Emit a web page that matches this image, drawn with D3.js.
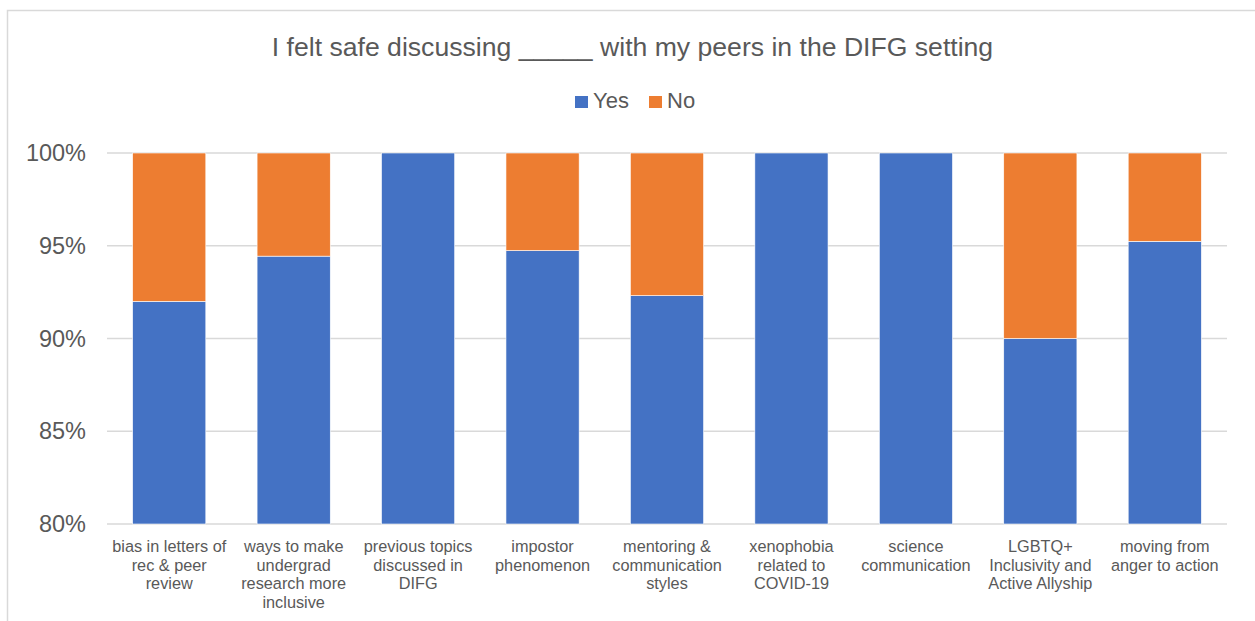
<!DOCTYPE html>
<html>
<head>
<meta charset="utf-8">
<script src="https://cdn.jsdelivr.net/npm/d3@7"></script>
<style>
  body { margin: 0; background: #fff; }
  svg text { font-family: "Liberation Sans", Arial, sans-serif; fill: #595959; }
</style>
</head>
<body>
<div id="chart"></div>
<script>
// chart data
var categories = [
  ["bias in letters of", "rec & peer", "review"],
  ["ways to make", "undergrad", "research more", "inclusive"],
  ["previous topics", "discussed in", "DIFG"],
  ["impostor", "phenomenon"],
  ["mentoring &", "communication", "styles"],
  ["xenophobia", "related to", "COVID-19"],
  ["science", "communication"],
  ["LGBTQ+", "Inclusivity and", "Active Allyship"],
  ["moving from", "anger to action"]
]
var yesValues = [92.0, 94.44, 100, 94.74, 92.31, 100, 100, 90.0, 95.24]
var noValues = [8.0, 5.56, 0, 5.26, 7.69, 0, 0, 10.0, 4.76]
var seriesNames = ["Yes", "No"]
var seriesColors = ["#4472C4", "#ED7D31"]
var yTicks = [80, 85, 90, 95, 100]
var title = "I felt safe discussing _____ with my peers in the DIFG setting"

var width = 1255, height = 621
var margin = {left: 107, right: 28, top: 153, bottom: 97}

var svg = d3.select("#chart").append("svg")
  .attr("width", width)
  .attr("height", height)

// chart border
svg.append("rect")
  .attr("x", 7.5).attr("y", 10.5)
  .attr("width", width + 10).attr("height", height + 10)
  .attr("fill", "none")
  .attr("stroke", "#d9d9d9")
  .attr("stroke-width", 1.5)

var x = d3.scaleBand()
  .domain(d3.range(categories.length))
  .range([margin.left, width - margin.right])
  .paddingInner(0.412)
  .paddingOuter(0.206)

var y = d3.scaleLinear()
  .domain([80, 100])
  .range([height - margin.bottom, margin.top])

// gridlines
svg.append("g").selectAll("line").data(yTicks).enter().append("line")
  .attr("x1", margin.left).attr("x2", width - margin.right)
  .attr("y1", function(d) { return y(d) }).attr("y2", function(d) { return y(d) })
  .attr("stroke", "#d9d9d9")
  .attr("stroke-width", 1.5)

// y axis labels
var yAxis = d3.axisLeft(y).tickValues(yTicks).tickFormat(function(d) { return d + "%" }).tickSize(0).tickPadding(21)
var yg = svg.append("g")
  .attr("transform", "translate(" + margin.left + ",0)")
  .call(yAxis)
yg.select(".domain").remove()
yg.selectAll("text")
  .style("font-size", "23.5px")
  .style("font-family", "'Liberation Sans', Arial, sans-serif")
  .attr("fill", "#595959")

// stacked bars
var stackData = yesValues.map(function(v, i) { return {i: i, Yes: v, No: noValues[i]} })
var stacked = d3.stack().keys(seriesNames)(stackData)

svg.append("g").selectAll("g").data(stacked).enter().append("g")
  .attr("fill", function(d, k) { return seriesColors[k] })
  .selectAll("rect").data(function(d) { return d }).enter().append("rect")
  .attr("x", function(d) { return x(d.data.i) })
  .attr("width", x.bandwidth())
  .attr("y", function(d) { return y(Math.min(d[1], 100)) })
  .attr("height", function(d) {
    var lo = Math.max(d[0], 80), hi = Math.min(d[1], 100)
    return Math.max(0, y(lo) - y(hi))
  })
  .attr("stroke", "#fff")
  .attr("stroke-width", 0.6)

// x axis labels
var xAxis = d3.axisBottom(x).tickSize(0).tickFormat("")
var xg = svg.append("g")
  .attr("transform", "translate(0," + (height - margin.bottom) + ")")
  .call(xAxis)
xg.select(".domain").remove()
xg.selectAll(".tick").each(function(d) {
  var t = d3.select(this).append("text")
    .attr("text-anchor", "middle")
    .attr("y", 28)
    .style("font-size", "16.3px")
    .attr("fill", "#595959")
  categories[d].forEach(function(line, j) {
    t.append("tspan").attr("x", 0).attr("dy", j === 0 ? 0 : 18.5).text(line)
  })
})

// title
svg.append("text")
  .attr("x", 632.5).attr("y", 56)
  .attr("text-anchor", "middle")
  .style("font-size", "26.6px")
  .text(title)

// legend
var legend = svg.append("g").attr("transform", "translate(575,108)")
var lx = [0, 74]
seriesNames.forEach(function(name, k) {
  var g = legend.append("g").attr("transform", "translate(" + lx[k] + ",0)")
  g.append("rect").attr("x", 0).attr("y", -12).attr("width", 13).attr("height", 12).attr("fill", seriesColors[k])
  g.append("text").attr("x", 18).attr("y", 0).style("font-size", "22px").text(name)
})
</script>
</body>
</html>
